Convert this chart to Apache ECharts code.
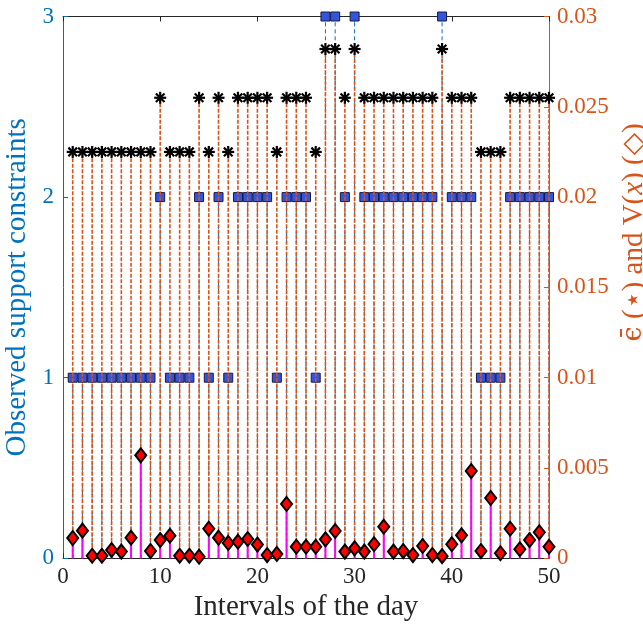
<!DOCTYPE html>
<html>
<head>
<meta charset="utf-8">
<script src="https://cdn.jsdelivr.net/npm/echarts@6/dist/echarts.min.js"></script>
<style>html,body{margin:0;padding:0;background:#fff;}#c{width:643px;height:626px;}</style>
</head>
<body>
<div id="c"></div>
<script>
// ---- data ----
const intervals = [1,2,3,4,5,6,7,8,9,10,11,12,13,14,15,16,17,18,19,20,21,22,23,24,25,26,27,28,29,30,31,32,33,34,35,36,37,38,39,40,41,42,43,44,45,46,47,48,49,50];
const supportConstraints = [1,1,1,1,1,1,1,1,1,2,1,1,1,2,1,2,1,2,2,2,2,1,2,2,2,1,3,3,2,3,2,2,2,2,2,2,2,2,3,2,2,2,1,1,1,2,2,2,2,2];
const epsilonBar = [0.0225,0.0225,0.0225,0.0225,0.0225,0.0225,0.0225,0.0225,0.0225,0.0255,0.0225,0.0225,0.0225,0.0255,0.0225,0.0255,0.0225,0.0255,0.0255,0.0255,0.0255,0.0225,0.0255,0.0255,0.0255,0.0225,0.0282,0.0282,0.0255,0.0282,0.0255,0.0255,0.0255,0.0255,0.0255,0.0255,0.0255,0.0255,0.0282,0.0255,0.0255,0.0255,0.0225,0.0225,0.0225,0.0255,0.0255,0.0255,0.0255,0.0255];
const violation = [0.00112,0.00153,0.00014,0.00014,0.00046,0.00037,0.00114,0.0057,0.0004,0.00101,0.00125,0.00014,0.00014,0.00009,0.00164,0.00114,0.00085,0.00092,0.00107,0.00076,0.00018,0.00024,0.00301,0.00064,0.00064,0.00064,0.00105,0.00151,0.00037,0.00055,0.00037,0.00078,0.00175,0.00037,0.0004,0.00018,0.00068,0.00018,0.00012,0.00078,0.00127,0.00483,0.0004,0.00334,0.00028,0.00164,0.0005,0.00101,0.00144,0.00064];

const BLUE = '#0072BD', ORANGE = '#D95319', DARK = '#262626';
const FONT = '"Liberation Serif", "DejaVu Serif", serif';

function zip(a, b) { return a.map((v, i) => [v, b[i]]); }

function stemSeries(name, yIdx, data, color, width, dash, z) {
  return {
    name, type: 'custom', yAxisIndex: yIdx, z, silent: true,
    data,
    renderItem: function (params, api) {
      const p0 = api.coord([api.value(0), 0]);
      const p1 = api.coord([api.value(0), api.value(1)]);
      return { type: 'line', shape: { x1: p0[0], y1: p0[1], x2: p1[0], y2: p1[1] },
        style: { stroke: color, lineWidth: width, lineDash: dash } };
    }
  };
}

const chart = echarts.init(document.getElementById('c'), null, { renderer: 'canvas' });
chart.setOption({
  animation: false,
  backgroundColor: '#fff',
  grid: { left: 63, right: 94, top: 16.5, bottom: 67.7, containLabel: false, outerBoundsMode: 'none' },
  xAxis: [{
    type: 'value', min: 0, max: 50, interval: 10, position: 'bottom',
    name: 'Intervals of the day', nameLocation: 'middle', nameGap: 33,
    nameTextStyle: { fontFamily: FONT, fontSize: 29, color: DARK },
    axisLine: { show: true, onZero: false, lineStyle: { color: DARK, width: 1 } },
    axisTick: { show: true, inside: true, length: 5, lineStyle: { color: DARK } },
    axisLabel: { fontFamily: FONT, fontSize: 23, color: DARK, margin: 7 },
    splitLine: { show: false }
  }, {
    type: 'value', min: 0, max: 50, interval: 10, position: 'top',
    axisLine: { show: true, onZero: false, lineStyle: { color: DARK, width: 1 } },
    axisTick: { show: true, inside: true, length: 5, lineStyle: { color: DARK } },
    axisLabel: { show: false }, splitLine: { show: false }
  }],
  yAxis: [{
    type: 'value', min: 0, max: 3, interval: 1, position: 'left',
    name: 'Observed support constraints', nameLocation: 'middle', nameGap: 22, nameRotate: 90,
    nameTextStyle: { fontFamily: FONT, fontSize: 29, color: BLUE },
    axisLine: { show: true, onZero: false, lineStyle: { color: BLUE, width: 1 } },
    axisTick: { show: true, inside: true, length: 5, lineStyle: { color: BLUE } },
    axisLabel: { fontFamily: FONT, fontSize: 23, color: BLUE, margin: 9 },
    splitLine: { show: false }
  }, {
    type: 'value', min: 0, max: 0.03, interval: 0.005, position: 'right',
    name: '{e|ϵ\u0304} (⋆) and V({i|x}) (◇)', nameLocation: 'middle', nameGap: 62, nameRotate: 90,
    nameTextStyle: { fontFamily: FONT, fontSize: 29, color: ORANGE, padding: [0, 0, 0, 110],
      rich: {
        i: { fontFamily: FONT, fontSize: 29, fontStyle: 'italic', color: ORANGE },
        e: { fontFamily: '"DejaVu Serif", serif', fontSize: 27, color: ORANGE }
      } },
    axisLine: { show: true, onZero: false, lineStyle: { color: ORANGE, width: 1 } },
    axisTick: { show: true, inside: true, length: 5, lineStyle: { color: ORANGE } },
    axisLabel: { fontFamily: FONT, fontSize: 23, color: ORANGE, margin: 8 },
    splitLine: { show: false }
  }],
  series: [
    stemSeries('scStem', 0, zip(intervals, supportConstraints), BLUE, 1, [4, 3], 1),
    {
      name: 'sc', type: 'scatter', yAxisIndex: 0, z: 2, silent: true,
      data: zip(intervals, supportConstraints), symbol: 'rect', symbolSize: 9,
      itemStyle: { color: '#3355dd', borderColor: '#1a1a40', borderWidth: 1, opacity: 1 }
    },
    stemSeries('epsStem', 1, zip(intervals, epsilonBar), ORANGE, 1.6, [4, 1.5], 3),
    {
      name: 'eps', type: 'custom', yAxisIndex: 1, z: 4, silent: true,
      data: zip(intervals, epsilonBar),
      renderItem: function (params, api) {
        const c = api.coord([api.value(0), api.value(1)]);
        const r = 6, d = r * 0.72;
        const segs = [[-r,0,r,0],[0,-r,0,r],[-d,-d,d,d],[-d,d,d,-d]];
        return { type: 'group', children: segs.map(s => ({
          type: 'line', shape: { x1: c[0]+s[0], y1: c[1]+s[1], x2: c[0]+s[2], y2: c[1]+s[3] },
          style: { stroke: '#000', lineWidth: 2.2 } })) };
      }
    },
    stemSeries('vStem', 1, zip(intervals, violation), '#FF00FF', 2, null, 5),
    {
      name: 'v', type: 'scatter', yAxisIndex: 1, z: 6, silent: true,
      data: zip(intervals, violation), symbol: 'diamond', symbolSize: [11, 14],
      itemStyle: { color: '#FF0000', borderColor: '#000', borderWidth: 2, opacity: 1 }
    }
  ]
});
</script>
</body>
</html>
